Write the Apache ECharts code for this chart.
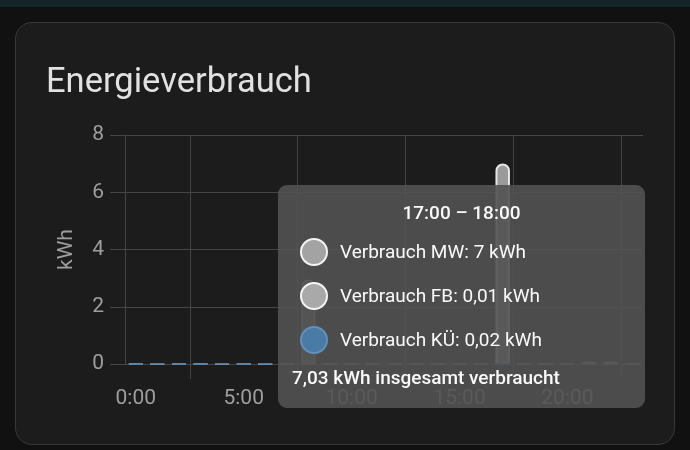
<!DOCTYPE html>
<html>
<head>
<meta charset="utf-8">
<script src="https://cdn.jsdelivr.net/npm/echarts@6/dist/echarts.min.js"></script>
<style>
  html, body { margin:0; padding:0; width:690px; height:450px; background:#111111; overflow:hidden; }
  #strip { position:absolute; left:0; top:0; width:690px; height:7px; background:#14252a; }
  #card { position:absolute; left:15px; top:22px; width:658px; height:421px; background:#1c1c1c;
          border:1px solid #393939; border-radius:17px; }
  #chart { position:absolute; left:0; top:0; width:690px; height:450px; }
</style>
</head>
<body>
<div id="strip"></div>
<div id="card"></div>
<div id="chart"></div>
<script>
// ---- data ----
const hours = [0,1,2,3,4,5,6,7,8,9,10,11,12,13,14,15,16,17,18,19,20,21,22,23];
const xTickLabels = [0,5,10,15,20];
const xGridHours = [2.5,7.5,12.5,17.5,22.5];
const seriesNames = ['Verbrauch MW','Verbrauch FB','Verbrauch KÜ'];
const mwValues = [0,0,0,0,0,0,0,0,2.95,0,0,0,0,0,0,0,0,7,0,0,0,0.08,0.08,0];
const fbValues = [0.01,0.02,0.01,0.01,0.02,0.01,0.01,0.02,0.02,0.01,0.01,0.01,0.01,0.01,0.01,0.01,0.01,0.01,0.01,0.01,0.01,0.02,0.02,0.01];
const kuValues = [0,0.02,0,0,0.02,0,0.02,0,0.03,0,0,0,0,0,0,0,0,0.02,0,0,0,0,0,0];
const yTicks = {min:0, max:8, interval:2};
const hoveredIndex = 17;

// ---- styles ----
const seriesColors = ['#a3a3a3','#a9a9a9','#4a7aa6'];
const markerBorders = ['#f4f4f4','#f4f4f4','#6190bb'];
const gridColor = '#454545';
const labelColor = '#9e9e9e';
const font = 'Roboto, "Noto Sans", sans-serif';

function fmt(v){ return v.toLocaleString('de-DE',{maximumFractionDigits:2}); }
function hexA(hex, a){
  const n = parseInt(hex.slice(1),16);
  return `rgba(${(n>>16)&255},${(n>>8)&255},${n&255},${a})`;
}

const allValues = [mwValues, fbValues, kuValues];
const series = allValues.map((vals, si) => ({
  name: seriesNames[si],
  type: 'bar',
  stack: 'total',
  barWidth: 14,
  data: hours.map((h, i) => [h, vals[i]]),
  itemStyle: {
    color: hexA(seriesColors[si], 0.55),
    borderColor: seriesColors[si],
    borderWidth: 1.5,
    borderRadius: si === 0 ? [7,7,0,0] : 0
  },
  emphasis: {
    itemStyle: {
      color: si === 0 ? '#9a9a9a' : seriesColors[si],
      borderColor: si === 0 ? '#e6e6e6' : seriesColors[si],
      borderWidth: 2
    }
  }
}));

const chart = echarts.init(document.getElementById('chart'), null, {renderer:'canvas'});
chart.setOption({
  animation: false,
  backgroundColor: 'transparent',
  title: {
    text: 'Energieverbrauch',
    left: 41, top: 61,
    textStyle: { fontFamily: font, fontSize: 34.5, fontWeight: 400, color: '#e1e1e1' }
  },
  grid: { left: 125, right: 47, top: 135, bottom: 86 },
  xAxis: {
    type: 'value',
    min: -0.5, max: 23.5,
    axisLine: { show: true, onZero: false, lineStyle: { color: gridColor, width: 1 } },
    axisTick: { show: true, length: 15, customValues: xGridHours, lineStyle: { color: gridColor } },
    splitLine: { show: true, lineStyle: { color: gridColor, width: 1 } },
    axisLabel: {
      customValues: xTickLabels,
      formatter: v => v + ':00',
      margin: 24,
      fontFamily: font, fontSize: 21, color: labelColor
    }
  },
  yAxis: {
    type: 'value',
    min: yTicks.min, max: yTicks.max, interval: yTicks.interval,
    name: 'kWh',
    nameLocation: 'middle',
    nameGap: 48,
    nameTextStyle: { fontFamily: font, fontSize: 21, color: labelColor },
    axisLine: { show: true, onZero: false, lineStyle: { color: gridColor, width: 1 } },
    axisTick: { show: true, length: 15, lineStyle: { color: gridColor } },
    splitLine: { show: true, lineStyle: { color: gridColor, width: 1 } },
    axisLabel: { margin: 21, fontFamily: font, fontSize: 21, color: labelColor }
  },
  tooltip: {
    trigger: 'axis',
    triggerOn: 'none',
    alwaysShowContent: true,
    transitionDuration: 0,
    axisPointer: { type: 'none' },
    position: [278, 185],
    padding: 0,
    borderWidth: 0,
    backgroundColor: 'rgba(82,82,82,0.9)',
    extraCssText: 'box-shadow:none;border-radius:9px;',
    textStyle: { fontFamily: font, fontSize: 19, color: '#ffffff' },
    formatter: function (params) {
      const h = hours[params[0].dataIndex];
      let total = 0;
      let html = '<div style="position:relative;width:367px;height:223px;font-family:Roboto,sans-serif;color:#fafafa;">';
      html += `<div style="position:absolute;left:0;right:0;top:16px;text-align:center;font-size:19px;line-height:24px;font-weight:500;">${h}:00 – ${h+1}:00</div>`;
      params.forEach((p, i) => {
        const v = p.data[1];
        total += v;
        const c = 67 + i * 44;
        html += `<div style="position:absolute;left:22px;top:${c-14}px;width:24px;height:24px;border-radius:50%;background:${seriesColors[p.seriesIndex]};border:2px solid ${markerBorders[p.seriesIndex]};"></div>`;
        html += `<div style="position:absolute;left:62px;top:${c-12}px;font-size:19px;line-height:24px;">${p.seriesName}: ${fmt(v)} kWh</div>`;
      });
      html += `<div style="position:absolute;left:14px;top:181px;font-size:19px;line-height:24px;font-weight:500;">${fmt(total)} kWh insgesamt verbraucht</div>`;
      html += '</div>';
      return html;
    }
  },
  series: series
});
chart.dispatchAction({ type: 'showTip', seriesIndex: 0, dataIndex: hoveredIndex });
chart.dispatchAction({ type: 'highlight', seriesIndex: 0, dataIndex: hoveredIndex });
</script>
</body>
</html>
